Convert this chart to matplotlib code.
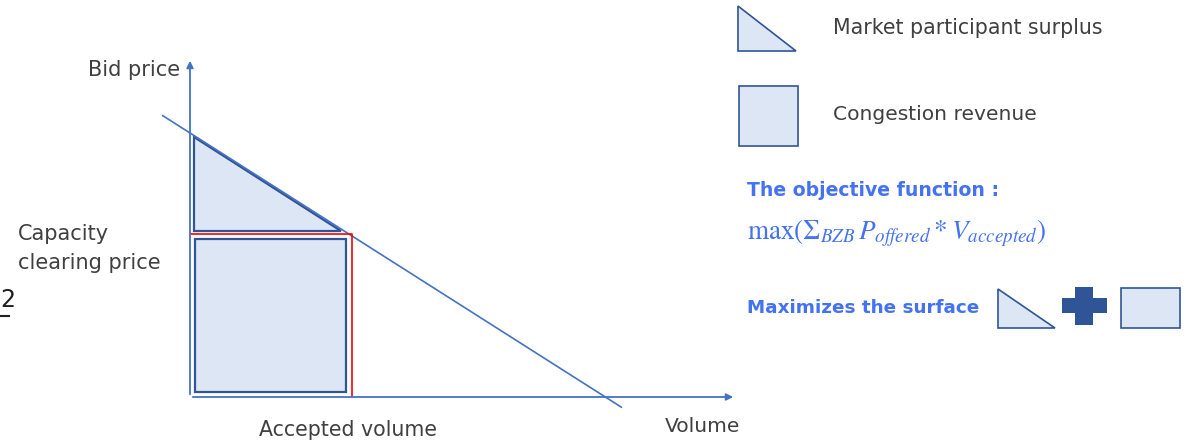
import matplotlib.pyplot as plt
from matplotlib.patches import Polygon, Rectangle

# schematic values (chart units: volume and price both 0..10)
demand_volume = [-0.5, 7.9]
demand_price = [8.3, -0.3]
clearing_volume = 2.97
clearing_price = 4.8
axis_max = [10, 10]

legend_labels = ["Market participant surplus", "Congestion revenue"]
objective_title = "The objective function :"
objective_formula = r"$\mathrm{max}(\Sigma_{BZB}\,P_{offered} * V_{accepted})$"
surface_label = "Maximizes the surface"

line_blue = "#4472c4"
edge_blue = "#2f5597"
fill_blue = "#dde6f5"
text_grey = "#404040"
accent_blue = "#4472f0"

plt.rcParams['font.family'] = ['DejaVu Sans']
plt.rcParams['mathtext.fontset'] = 'stix'

fig = plt.figure(figsize=(11.86, 4.42), dpi=100)
W, H = 1186, 442

# chart axes: origin at pixel (190, 397), arrows to (736, 58)
ax = fig.add_axes([190 / W, 45 / H, 546 / W, 339 / H])
ax.set_xlim(0, axis_max[0])
ax.set_ylim(0, axis_max[1])
ax.axis('off')

ax.annotate('', xy=(axis_max[0], 0), xytext=(0, 0),
            arrowprops=dict(arrowstyle='-|>', color=line_blue, lw=1.3, mutation_scale=10))
ax.annotate('', xy=(0, axis_max[1]), xytext=(0, 0),
            arrowprops=dict(arrowstyle='-|>', color=line_blue, lw=1.3, mutation_scale=10))

# demand curve
ax.plot(demand_volume, demand_price, color=line_blue, lw=1.2, clip_on=False)

# clearing lines
ax.plot([0, clearing_volume, clearing_volume], [clearing_price, clearing_price, 0],
        color='red', lw=1.2)

# surplus triangle, sitting on the demand line
slope = (demand_price[1] - demand_price[0]) / (demand_volume[1] - demand_volume[0])
x0 = 0.07
top = demand_price[0] + slope * (x0 - demand_volume[0]) - 0.05
tri_y = clearing_price + 0.1
tri_x = x0 + (top - tri_y) / -slope
ax.add_patch(Polygon([(x0, top), (x0, tri_y), (tri_x, tri_y)], closed=True,
                     facecolor=fill_blue, edgecolor=edge_blue, lw=1.6))

# congestion revenue rectangle
ax.add_patch(Rectangle((0.09, 0.15), clearing_volume - 0.2, clearing_price - 0.3,
                       facecolor=fill_blue, edgecolor=edge_blue, lw=1.6))

# overlay in pixel coordinates for labels and legend
ov = fig.add_axes([0, 0, 1, 1], zorder=3)
ov.set_xlim(0, W)
ov.set_ylim(H, 0)
ov.axis('off')
ov.patch.set_alpha(0)

ov.text(88, 70, "Bid price", fontsize=15, color=text_grey, va='center')
ov.text(18, 234, "Capacity", fontsize=15, color=text_grey, va='center')
ov.text(18, 263, "clearing price", fontsize=15, color=text_grey, va='center')
ov.text(348, 430, "Accepted volume", fontsize=14.8, color=text_grey, va='center', ha='center')
ov.text(665, 427, "Volume", fontsize=14.6, color=text_grey, va='center')

# slide number at the left edge
ov.text(0, 300, "2", fontsize=17, color='#202020', va='center')
ov.plot([0, 9], [316, 316], color='#202020', lw=1.5)

# legend icons
ov.add_patch(Polygon([(738, 6), (738, 51), (796, 51)], closed=True,
                     facecolor=fill_blue, edgecolor=edge_blue, lw=1.2))
ov.add_patch(Rectangle((739, 86), 59, 60, facecolor=fill_blue, edgecolor=edge_blue, lw=1.2))
ov.text(833, 28, legend_labels[0], fontsize=14.8, color=text_grey, va='center')
ov.text(833, 115, legend_labels[1], fontsize=14.6, color=text_grey, va='center')

ov.text(747, 191, objective_title, fontsize=13.6, color=accent_blue, va='center', fontweight='bold')
ov.text(747, 233, objective_formula, fontsize=19.5, color=accent_blue, va='center')
ov.text(747, 308, surface_label, fontsize=13.2, color=accent_blue, va='center', fontweight='bold')

ov.add_patch(Polygon([(998, 289), (998, 328), (1055, 328)], closed=True,
                     facecolor=fill_blue, edgecolor=edge_blue, lw=1.2))
plus = [(1075, 287), (1093, 287), (1093, 298), (1107, 298), (1107, 313), (1093, 313),
        (1093, 325), (1075, 325), (1075, 313), (1062, 313), (1062, 298), (1075, 298)]
ov.add_patch(Polygon(plus, closed=True, facecolor=edge_blue, edgecolor='none'))
ov.add_patch(Rectangle((1121, 288), 59, 40, facecolor=fill_blue, edgecolor=edge_blue, lw=1.2))

fig.savefig("out.png", dpi=100)
